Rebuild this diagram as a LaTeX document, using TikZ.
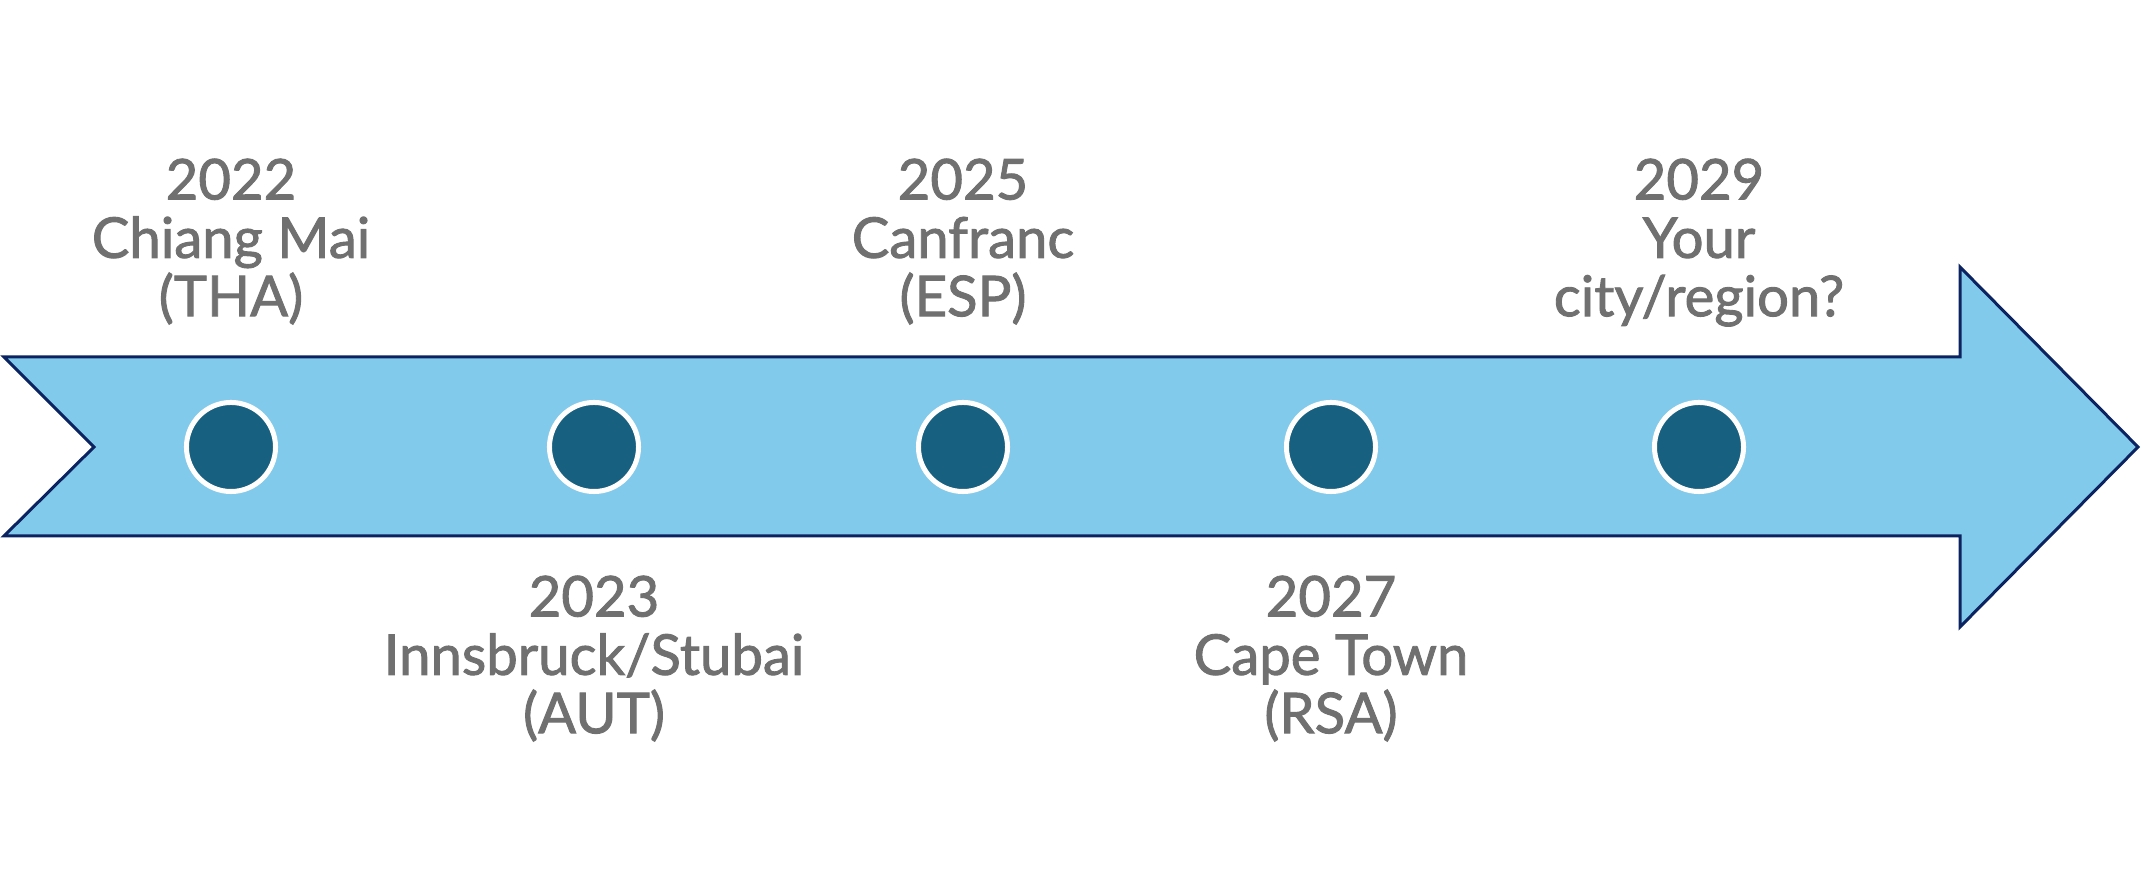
\documentclass[tikz,border=0pt]{standalone}
\usepackage{fontspec}
\setmainfont{Lato}[RawFeature={embolden=1.6}]
\usetikzlibrary{positioning}

\definecolor{shaftblue}{HTML}{82CAEB}
\definecolor{edgenavy}{HTML}{0B2360}
\definecolor{dotblue}{HTML}{17607F}
\definecolor{labelgray}{HTML}{707070}

\newcommand{\placefont}{\fontsize{16}{16.6}\selectfont\lineskiplimit=-100pt\relax}

\begin{document}
\begin{tikzpicture}[
    x=0.01cm, y=-0.01cm,
    event/.style={circle, fill=dotblue, draw=white, line width=0.05cm, minimum size=0.89cm, inner sep=0pt},
    place/.style={text=labelgray, align=center, inner sep=0pt, font=\placefont}
]
    \useasboundingbox (0,0) rectangle (2141,892);

    % timeline arrow
    \draw[fill=shaftblue, draw=edgenavy, line width=0.03cm, line join=miter]
        (4,357) -- (1960,357) -- (1960,267) -- (2138,447) -- (1960,627)
        -- (1960,536) -- (4,536) -- (94,447) -- cycle;

    \node[event] (dot22) at (231,447) {};
    \node[event] (dot23) at (594,447) {};
    \node[event] (dot25) at (963,447) {};
    \node[event] (dot27) at (1331,447) {};
    \node[event] (dot29) at (1699,447) {};

    \node[place, anchor=north] (lab22) at (231,158) {2022\\Chiang Mai\\(THA)};
    \node[place, anchor=north] (lab23) at (594,575) {2023\\Innsbruck/Stubai\\(AUT)};
    \node[place, anchor=north] (lab25) at (963,158) {2025\\Canfranc\\(ESP)};
    \node[place, anchor=north] (lab27) at (1331,575) {2027\\Cape Town\\(RSA)};
    \node[place, anchor=north] (lab29) at (1699,158) {2029\\Your\\city/region?};
\end{tikzpicture}
\end{document}
